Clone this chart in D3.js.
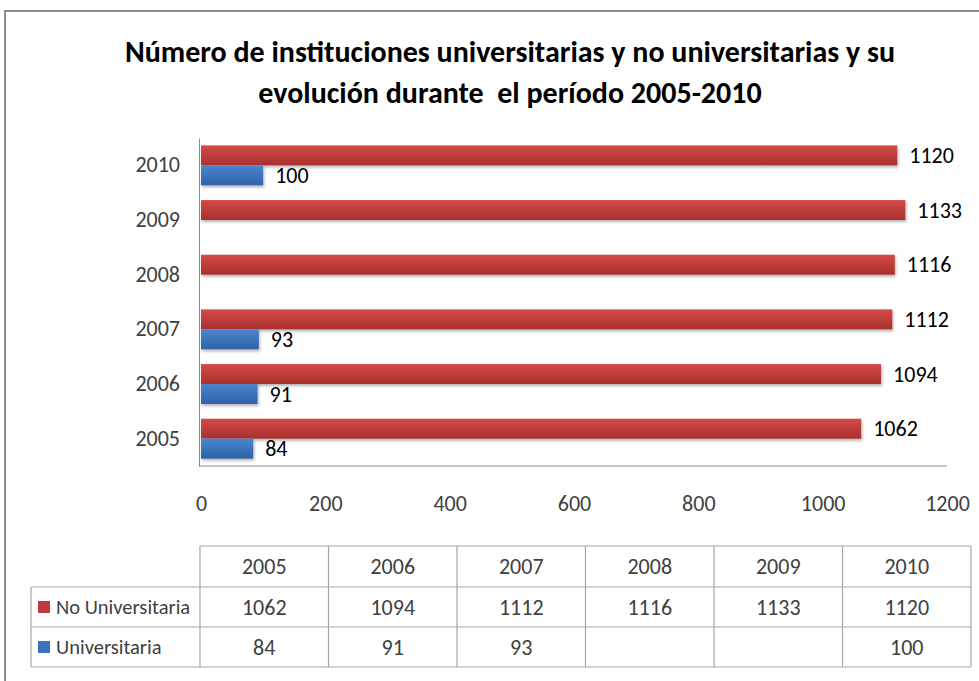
<!DOCTYPE html>
<html>
<head>
<meta charset="utf-8">
<script src="https://cdn.jsdelivr.net/npm/d3@7"></script>
<style>
html,body{margin:0;padding:0;background:#fff;}
svg{display:block;}
</style>
</head>
<body>
<svg id="chart" width="979" height="681"></svg>
<script>
const years = ["2005","2006","2007","2008","2009","2010"];
const seriesNames = ["No Universitaria","Universitaria"];
const noUniversitaria = [1062,1094,1112,1116,1133,1120];
const universitaria = [84,91,93,null,null,100];
const xTicks = [0,200,400,600,800,1000,1200];
const titleLines = ["Número de instituciones universitarias y no universitarias y su","evolución durante  el período 2005-2010"];

const seriesValues = [noUniversitaria, universitaria];
const colors = {"No Universitaria":["#d44a47","#a8302e"],"Universitaria":["#4a86d0","#2f62a6"]};
const legendColors = {"No Universitaria":"#c0393b","Universitaria":"#3a74bf"};
const FONT = "Carlito, Calibri, Lato, 'Open Sans', sans-serif";
const TXT = "#404040";
const FS = 22;

const svg = d3.select("#chart");
const defs = svg.append("defs");
seriesNames.forEach((s,i)=>{
  const g = defs.append("linearGradient").attr("id","grad"+i).attr("x1",0).attr("y1",0).attr("x2",0).attr("y2",1);
  g.append("stop").attr("offset","0%").attr("stop-color",colors[s][0]);
  g.append("stop").attr("offset","100%").attr("stop-color",colors[s][1]);
});
const f = defs.append("filter").attr("id","shadow").attr("x","-5%").attr("y","-30%").attr("width","110%").attr("height","180%");
f.append("feDropShadow").attr("dx",1).attr("dy",2).attr("stdDeviation",1.5).attr("flood-color","#000").attr("flood-opacity",0.3);

// outer frame
svg.append("rect").attr("x",5).attr("y",11).attr("width",1000).attr("height",700)
  .attr("fill","none").attr("stroke","#8c8c8c").attr("stroke-width",2);

// title
svg.append("g").selectAll("text").data(titleLines).join("text")
  .attr("x",510).attr("y",(d,i)=>62+i*41)
  .attr("text-anchor","middle").attr("font-family",FONT).attr("font-weight","bold")
  .attr("font-size",30).attr("fill","#000").style("white-space","pre").text(d=>d);

const x = d3.scaleLinear().domain([0,1200]).range([201,947]);
const y = d3.scaleBand().domain(years.slice().reverse()).range([138,466]).paddingInner(0.27).paddingOuter(0.135);
const ySub = d3.scaleBand().domain(seriesNames).range([0,y.bandwidth()]);

// axes
const xAxis = svg.append("g").attr("transform","translate(0,466)")
  .call(d3.axisBottom(x).tickValues(xTicks).tickFormat(d3.format("d")).tickSize(0).tickPadding(29));
xAxis.select(".domain").attr("stroke","#8c8c8c").attr("d","M199,0H947");
xAxis.selectAll("text").attr("font-family",FONT).attr("font-size",FS).attr("fill",TXT);

const yAxis = svg.append("g").attr("transform","translate(199,0)")
  .call(d3.axisLeft(y).tickSize(0).tickPadding(19));
yAxis.select(".domain").attr("stroke","#8c8c8c");
yAxis.selectAll("text").attr("font-family",FONT).attr("font-size",FS).attr("fill",TXT);

// bars
const rows = [];
years.forEach((yr,i)=>{
  seriesNames.forEach((s,j)=>{
    const v = seriesValues[j][i];
    if(v!==null) rows.push({year:yr,series:s,si:j,value:v});
  });
});
const barG = svg.append("g");
barG.selectAll("rect").data(rows).join("rect")
  .attr("x",x(0)).attr("y",d=>y(d.year)+ySub(d.series))
  .attr("width",d=>x(d.value)-x(0)).attr("height",ySub.bandwidth())
  .attr("fill",d=>"url(#grad"+d.si+")").attr("filter","url(#shadow)");
barG.selectAll("text").data(rows).join("text")
  .attr("x",d=>x(d.value)+12).attr("y",d=>y(d.year)+ySub(d.series)+ySub.bandwidth()/2)
  .attr("dy","0.35em").attr("font-family",FONT).attr("font-size",FS).attr("fill","#000")
  .text(d=>d.value);

// data table
const colX = d3.scaleBand().domain(years).range([200,971]);
const rowTop = [546,587,627,667];
const tbl = svg.append("g").attr("stroke","#a6a6a6").attr("stroke-width",1.2);
tbl.append("line").attr("x1",200).attr("x2",971).attr("y1",rowTop[0]).attr("y2",rowTop[0]);
[1,2,3].forEach(k=>tbl.append("line").attr("x1",31).attr("x2",971).attr("y1",rowTop[k]).attr("y2",rowTop[k]));
tbl.append("line").attr("x1",31).attr("x2",31).attr("y1",rowTop[1]).attr("y2",rowTop[3]);
years.forEach(yr=>tbl.append("line").attr("x1",colX(yr)).attr("x2",colX(yr)).attr("y1",rowTop[0]).attr("y2",rowTop[3]));
tbl.append("line").attr("x1",971).attr("x2",971).attr("y1",rowTop[0]).attr("y2",rowTop[3]);

const tt = svg.append("g").attr("font-family",FONT).attr("font-size",FS).attr("fill",TXT);
tt.selectAll("text.h").data(years).join("text").attr("class","h")
  .attr("x",d=>colX(d)+colX.bandwidth()/2).attr("y",(rowTop[0]+rowTop[1])/2).attr("dy","0.35em")
  .attr("text-anchor","middle").text(d=>d);
seriesNames.forEach((s,j)=>{
  const cy = (rowTop[j+1]+rowTop[j+2])/2;
  tt.append("rect").attr("x",38).attr("y",cy-6).attr("width",12).attr("height",12).attr("fill",legendColors[s]);
  tt.append("text").attr("x",56).attr("y",cy).attr("dy","0.35em").attr("font-size",20.5).text(s);
  tt.selectAll(null).data(years.map((yr,i)=>({yr,v:seriesValues[j][i]})).filter(d=>d.v!==null)).join("text")
    .attr("x",d=>colX(d.yr)+colX.bandwidth()/2).attr("y",cy).attr("dy","0.35em")
    .attr("text-anchor","middle").text(d=>d.v);
});
</script>
</body>
</html>
